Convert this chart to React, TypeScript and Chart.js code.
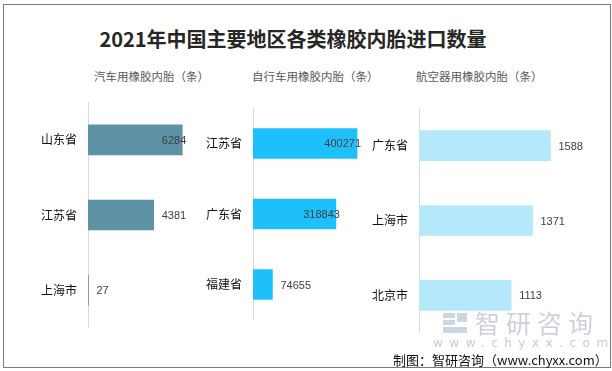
import React, { useEffect, useRef } from "react";
import { Chart, registerables } from "chart.js";

Chart.register(...registerables);

const chartTitle = "2021年中国主要地区各类橡胶内胎进口数量";
const panelTitles = ["汽车用橡胶内胎（条）", "自行车用橡胶内胎（条）", "航空器用橡胶内胎（条）"];

const carCategories = ["山东省", "江苏省", "上海市"];
const carValues = [6284, 4381, 27];

const bikeCategories = ["江苏省", "广东省", "福建省"];
const bikeValues = [400271, 318843, 74655];

const planeCategories = ["广东省", "上海市", "北京市"];
const planeValues = [1588, 1371, 1113];

const axisMaxima = [7000, 450000, 1800];

// label placement style per bar (true = label drawn over bar end)
const carLabelInside = [true, false, false];
const bikeLabelInside = [true, true, false];
const planeLabelInside = [false, false, false];

const footerText = "制图：智研咨询（www.chyxx.com）";

const AXIS_W = 58;
const PAD_R = 45;

const labelPlugin = {
  id: "barLabels",
  afterDatasetsDraw(chart: any, _args: any, opts: any) {
    const ctx = chart.ctx;
    const ds = chart.data.datasets[0];
    const meta = chart.getDatasetMeta(0);
    const inside: boolean[] = (opts && opts.inside) || [];
    ctx.save();
    ctx.font = "11px 'Liberation Sans', Arial, sans-serif";
    ctx.fillStyle = "#404040";
    ctx.textBaseline = "middle";
    meta.data.forEach((bar: any, i: number) => {
      const v = ds.data[i] as number;
      const txt = String(v);
      if (inside[i]) {
        ctx.textAlign = "right";
        ctx.fillText(txt, bar.x + 4, bar.y + 1);
      } else {
        ctx.textAlign = "left";
        ctx.fillText(txt, bar.x + 8, bar.y + 1);
      }
    });
    ctx.restore();
  },
};

type PanelProps = {
  labels: string[];
  values: number[];
  max: number;
  color: string;
  left: number;
  top: number;
  plotW: number;
  height: number;
  inside: boolean[];
};

function Panel({ labels, values, max, color, left, top, plotW, height, inside }: PanelProps) {
  const ref = useRef<HTMLCanvasElement | null>(null);
  useEffect(() => {
    if (!ref.current) return;
    const chart = new Chart(ref.current, {
      type: "bar",
      data: {
        labels,
        datasets: [{ data: values, backgroundColor: color, barThickness: 30 }],
      },
      options: {
        indexAxis: "y",
        responsive: false,
        animation: false,
        layout: { padding: { left: 0, right: PAD_R, top: 0, bottom: 0 } },
        plugins: {
          legend: { display: false },
          tooltip: { enabled: false },
          barLabels: { inside },
        },
        scales: {
          x: { display: false, min: 0, max },
          y: {
            grid: { display: false, drawTicks: false },
            border: { display: true, color: "#d9d9d9", width: 1 },
            ticks: {
              color: "#111111",
              padding: 11,
              font: { family: "'Noto Sans CJK SC', sans-serif", size: 12 },
            },
            afterFit: (s: any) => {
              s.width = AXIS_W;
            },
          },
        },
      } as any,
      plugins: [labelPlugin],
    });
    return () => chart.destroy();
  }, []);
  const w = AXIS_W + plotW + PAD_R;
  return (
    <canvas
      ref={ref}
      width={w}
      height={height}
      style={{ position: "absolute", left, top, width: w, height }}
    />
  );
}

const textBase: React.CSSProperties = {
  position: "absolute",
  fontFamily: "'Noto Sans CJK SC', sans-serif",
  whiteSpace: "nowrap",
};

const wmColor = "rgba(170,188,205,0.6)";

export default function App() {
  return (
    <div
      style={{
        position: "fixed",
        left: 0,
        top: 0,
        width: 612,
        height: 371,
        background: "#ffffff",
        overflow: "hidden",
      }}
    >
      <div
        style={{
          position: "absolute",
          left: 3,
          top: 4,
          width: 606,
          height: 362,
          border: "1px solid #7a7a7a",
        }}
      />
      <div
        style={{
          ...textBase,
          left: 0,
          width: 586,
          top: 27,
          lineHeight: "24px",
          fontSize: 20,
          fontWeight: 700,
          color: "#262626",
          textAlign: "center",
        }}
      >
        {chartTitle}
      </div>

      <div style={{ ...textBase, left: 94, top: 68, fontSize: 11.5, lineHeight: "16px", color: "#595959" }}>
        {panelTitles[0]}
      </div>
      <div style={{ ...textBase, left: 252, top: 68, fontSize: 11.5, lineHeight: "16px", color: "#595959" }}>
        {panelTitles[1]}
      </div>
      <div style={{ ...textBase, left: 416, top: 68, fontSize: 11.5, lineHeight: "16px", color: "#595959" }}>
        {panelTitles[2]}
      </div>

      <Panel labels={carCategories} values={carValues} max={axisMaxima[0]} color="#5e93a6" left={30} top={84} plotW={105} height={262} inside={carLabelInside} />
      <Panel labels={bikeCategories} values={bikeValues} max={axisMaxima[1]} color="#1ec0fc" left={195} top={90} plotW={117} height={248} inside={bikeLabelInside} />
      <Panel labels={planeCategories} values={planeValues} max={axisMaxima[2]} color="#b6e8fb" left={361} top={90} plotW={149} height={261} inside={planeLabelInside} />

      {/* watermark */}
      <div style={{ position: "absolute", left: 443, top: 313, width: 12, height: 5, background: wmColor }} />
      <div style={{ position: "absolute", left: 457, top: 313, width: 10, height: 9, background: wmColor }} />
      <div style={{ position: "absolute", left: 443, top: 320, width: 12, height: 5, background: wmColor }} />
      <div style={{ position: "absolute", left: 443, top: 327, width: 24, height: 6, background: wmColor }} />
      <div
        style={{
          ...textBase,
          left: 475,
          top: 306,
          fontSize: 25,
          lineHeight: "32px",
          letterSpacing: 6,
          color: "rgba(130,140,155,0.4)",
        }}
      >
        智研咨询
      </div>
      <div
        style={{
          ...textBase,
          left: 433,
          top: 336,
          fontSize: 12,
          lineHeight: "14px",
          letterSpacing: 6.5,
          color: "rgba(150,150,150,0.5)",
          fontFamily: "'DejaVu Sans', sans-serif",
        }}
      >
        www.chyxx.com
      </div>

      <div style={{ ...textBase, left: 393, top: 351, fontSize: 13, lineHeight: "18px", color: "#111111" }}>
        {footerText}
      </div>
    </div>
  );
}
